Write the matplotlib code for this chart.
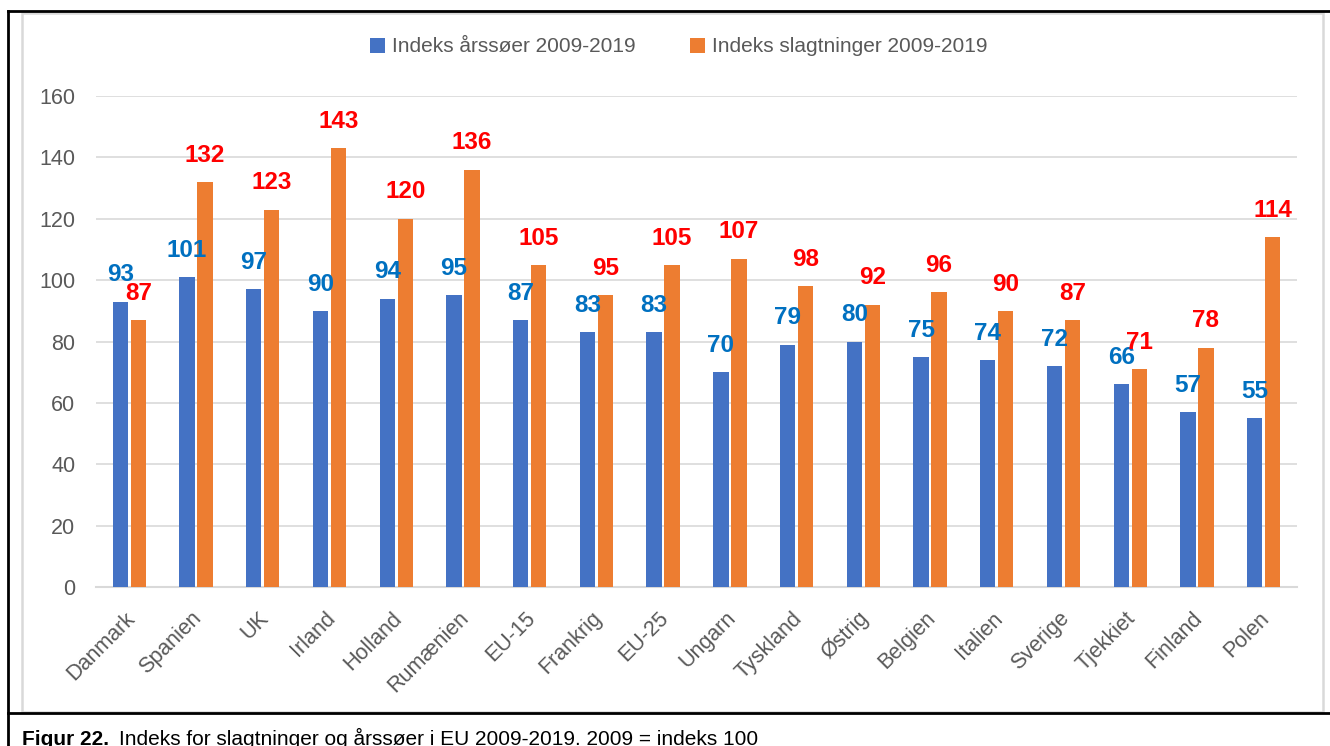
import matplotlib
matplotlib.use('Agg')
import matplotlib.pyplot as plt
import matplotlib.transforms as mtransforms
import numpy as np
from matplotlib.lines import Line2D
from matplotlib.patches import Rectangle

# data
countries = ['Danmark', 'Spanien', 'UK', 'Irland', 'Holland', 'Rumænien', 'EU-15',
             'Frankrig', 'EU-25', 'Ungarn', 'Tyskland', 'Østrig', 'Belgien', 'Italien',
             'Sverige', 'Tjekkiet', 'Finland', 'Polen']
sows = [93, 101, 97, 90, 94, 95, 87, 83, 83, 70, 79, 80, 75, 74, 72, 66, 57, 55]
slaughter = [87, 132, 123, 143, 120, 136, 105, 95, 105, 107, 98, 92, 96, 90, 87, 71, 78, 114]
yticks = [0, 20, 40, 60, 80, 100, 120, 140, 160]
legend_labels = ['Indeks årssøer 2009-2019', 'Indeks slagtninger 2009-2019']

BLUE = '#4472C4'
ORANGE = '#ED7D31'
GRID = '#D9D9D9'
TXT = '#595959'

plt.rcParams['font.family'] = ['Liberation Sans', 'DejaVu Sans']

W, H = 1330, 746
fig = plt.figure(figsize=(W / 100, H / 100), dpi=100)

# frames around the chart
def fx(px):
    return px / W

def fy(py):
    return 1 - py / H

fig.add_artist(Rectangle((fx(22), fy(712)), fx(1323) - fx(22), fy(13) - fy(712),
                         transform=fig.transFigure, fill=False, edgecolor=GRID, linewidth=1.8))
fig.add_artist(Line2D([fx(8), fx(8)], [fy(11), 0], transform=fig.transFigure, color='black', linewidth=2))
fig.add_artist(Line2D([fx(8), 1], [fy(11), fy(11)], transform=fig.transFigure, color='black', linewidth=2))
fig.add_artist(Line2D([fx(8), 1], [fy(713), fy(713)], transform=fig.transFigure, color='black', linewidth=2))

ax = fig.add_axes([fx(96), fy(587), fx(1297) - fx(96), fy(96) - fy(587)])

x = np.arange(len(countries))
w = 0.23
b1 = ax.bar(x - w / 2 - 0.02, sows, width=w, color=BLUE, label=legend_labels[0], zorder=3)
b2 = ax.bar(x + w / 2 + 0.02, slaughter, width=w, color=ORANGE, label=legend_labels[1], zorder=3)

for bar, v in zip(b1, sows):
    ax.annotate(f'{v}', (bar.get_x() + bar.get_width() / 2, bar.get_height()),
                xytext=(0, 11), textcoords='offset points', ha='center', va='bottom',
                fontsize=17.5, fontweight='bold', color='#0070C0', zorder=4)
for bar, v in zip(b2, slaughter):
    ax.annotate(f'{v}', (bar.get_x() + bar.get_width() / 2, bar.get_height()),
                xytext=(0, 11), textcoords='offset points', ha='center', va='bottom',
                fontsize=17.5, fontweight='bold', color='#FF0000', zorder=5)

ax.set_xlim(-0.5, len(countries) - 0.5)
ax.set_ylim(0, 160)
ax.set_yticks(yticks)
ax.yaxis.grid(True, color=GRID, linewidth=1.2, zorder=0)
ax.set_axisbelow(True)
for s in ['top', 'right', 'left']:
    ax.spines[s].set_visible(False)
ax.spines['bottom'].set_color(GRID)
ax.spines['bottom'].set_linewidth(1.5)
ax.tick_params(axis='both', length=0, labelsize=15.5, labelcolor=TXT)
ax.tick_params(axis='y', pad=15)
ax.tick_params(axis='x', pad=15)
ax.set_xticks(x)
ax.set_xticklabels(countries, rotation=45, ha='right', rotation_mode='anchor')
shift = mtransforms.ScaledTranslation(-5 / 100, 0, fig.dpi_scale_trans)
for lab in ax.get_xticklabels():
    lab.set_transform(lab.get_transform() + shift)

fig.legend(handles=[b1, b2], labels=legend_labels, loc='center', bbox_to_anchor=(fx(679), fy(47)),
           ncol=2, frameon=False, fontsize=15, labelcolor=TXT, handlelength=0.7, handleheight=0.7,
           handletextpad=0.35, columnspacing=2.6)

# caption below the chart (cut at the bottom edge, as in the source)
fig.text(fx(22), fy(745), 'Figur 22.', fontsize=15, fontweight='bold', va='baseline', ha='left')
fig.text(fx(119), fy(745), 'Indeks for slagtninger og årssøer i EU 2009-2019. 2009 = indeks 100',
         fontsize=15, va='baseline', ha='left')

fig.savefig('out.png', dpi=100)
